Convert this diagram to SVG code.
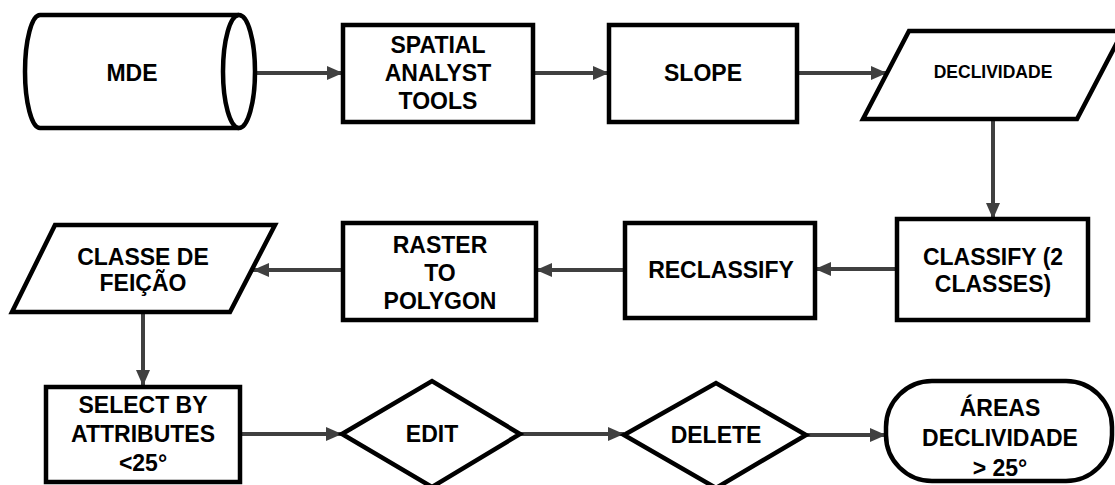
<svg xmlns="http://www.w3.org/2000/svg" width="1115" height="485" viewBox="0 0 1115 485">
<style>
.s{fill:#fff;stroke:#000;stroke-width:4.5;stroke-linejoin:miter}
.c{fill:none;stroke:#404040;stroke-width:4}
.t{font-family:"Liberation Sans",Arial,sans-serif;font-weight:bold;font-size:23px;fill:#000;text-anchor:middle}
.sm{font-size:17.5px}
</style>
<defs>
<marker id="ah" markerUnits="userSpaceOnUse" markerWidth="18" markerHeight="16" refX="16" refY="7" orient="auto">
<path d="M0,0 L16,7 L0,14 Z" fill="#404040"/>
</marker>
</defs>
<rect width="1115" height="485" fill="#fff"/>
<g id="connectors">
<line class="c" x1="255" y1="73" x2="343" y2="73" marker-end="url(#ah)"/>
<line class="c" x1="533" y1="73" x2="609" y2="73" marker-end="url(#ah)"/>
<line class="c" x1="797" y1="73" x2="887" y2="73" marker-end="url(#ah)"/>
<line class="c" x1="993" y1="119" x2="993" y2="219" marker-end="url(#ah)"/>
<line class="c" x1="897" y1="269" x2="815" y2="269" marker-end="url(#ah)"/>
<line class="c" x1="625" y1="270" x2="536" y2="270" marker-end="url(#ah)"/>
<line class="c" x1="343" y1="270" x2="253" y2="270" marker-end="url(#ah)"/>
<line class="c" x1="143" y1="312" x2="143" y2="386" marker-end="url(#ah)"/>
<line class="c" x1="240" y1="434" x2="342" y2="434" marker-end="url(#ah)"/>
<line class="c" x1="520" y1="434" x2="624" y2="434" marker-end="url(#ah)"/>
<line class="c" x1="806" y1="435" x2="886" y2="435" marker-end="url(#ah)"/>
</g>
<g id="mde">
<path class="s" d="M40,15 H239 A16,56.5 0 0,1 239,128 H40 A15,56.5 0 0,1 40,15 Z"/>
<path class="s" d="M239,15 A16,56.5 0 0,0 239,128"/>
<text class="t" x="132" y="81">MDE</text>
</g>
<g id="spatial">
<rect class="s" x="343" y="25" width="190" height="97"/>
<text class="t" x="438" y="53">SPATIAL</text>
<text class="t" x="438" y="81">ANALYST</text>
<text class="t" x="438" y="109">TOOLS</text>
</g>
<g id="slope">
<rect class="s" x="609" y="25" width="188" height="97"/>
<text class="t" x="703" y="81">SLOPE</text>
</g>
<g id="declividade">
<polygon class="s" points="909,31 1123,31 1077,119 863,119"/>
<text class="t sm" x="993" y="78">DECLIVIDADE</text>
</g>
<g id="classify">
<rect class="s" x="897" y="219" width="191" height="101"/>
<text class="t" x="993" y="265">CLASSIFY (2</text>
<text class="t" x="993" y="292">CLASSES)</text>
</g>
<g id="reclassify">
<rect class="s" x="625" y="223" width="190" height="95"/>
<text class="t" x="721" y="278">RECLASSIFY</text>
</g>
<g id="raster">
<rect class="s" x="343" y="223" width="193" height="97"/>
<text class="t" x="440" y="253">RASTER</text>
<text class="t" x="440" y="281">TO</text>
<text class="t" x="440" y="309">POLYGON</text>
</g>
<g id="classe">
<polygon class="s" points="55,225 275,225 230,312 12,312"/>
<text class="t" x="143" y="265">CLASSE DE</text>
<text class="t" x="143" y="291">FEIÇÃO</text>
</g>
<g id="select">
<rect class="s" x="46" y="387" width="194" height="95"/>
<text class="t" x="143" y="413">SELECT BY</text>
<text class="t" x="143" y="442">ATTRIBUTES</text>
<text class="t" x="143" y="471">&lt;25°</text>
</g>
<g id="edit">
<polygon class="s" points="342,434 432,381 520,434 432,487"/>
<text class="t" x="432" y="442">EDIT</text>
</g>
<g id="delete">
<polygon class="s" points="624,435 716,383 806,435 716,488"/>
<text class="t" x="716" y="443">DELETE</text>
</g>
<g id="areas">
<rect class="s" x="886" y="381" width="226" height="100" rx="46" ry="46"/>
<text class="t" x="1000" y="416">ÁREAS</text>
<text class="t" x="1000" y="446">DECLIVIDADE</text>
<text class="t" x="1000" y="476">&gt; 25°</text>
</g>
</svg>
